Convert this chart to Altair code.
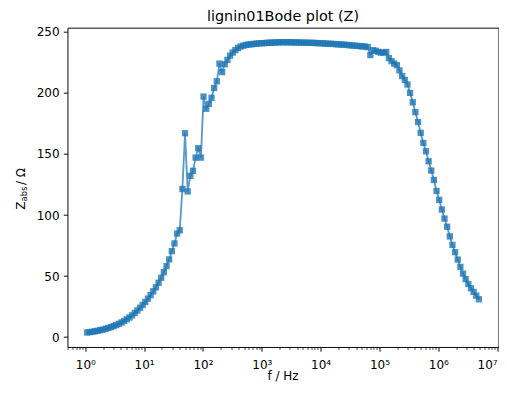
import altair as alt
import pandas as pd

# ---------------- data ----------------
freq_hz = [
    1.072, 1.189, 1.318, 1.462, 1.622, 1.799, 1.995, 2.213, 2.455, 2.723,
    3.020, 3.350, 3.715, 4.121, 4.571, 5.070, 5.623, 6.237, 6.918, 7.674,
    8.511, 9.441, 10.47, 11.61, 12.88, 14.29, 15.85, 17.58, 19.50, 21.63,
    23.99, 26.61, 29.51, 32.73, 36.31, 40.27, 44.67, 49.55, 54.95, 60.95,
    67.61, 74.99, 83.18, 92.26, 102.3, 113.5, 125.9, 139.6, 154.9, 171.8,
    190.5, 211.3, 234.4, 260.0, 288.4, 319.9, 354.8, 393.6, 436.5, 484.2,
    537.0, 595.7, 660.7, 732.8, 812.8, 901.6, 1000, 1109, 1230, 1365,
    1514, 1679, 1862, 2065, 2291, 2541, 2818, 3126, 3467, 3846,
    4266, 4732, 5248, 5821, 6457, 7161, 7943, 8810, 9772, 10840,
    12020, 13340, 14790, 16410, 18200, 20180, 22390, 24830, 27540, 30550,
    33880, 37580, 41690, 46240, 51290, 56890, 63100, 69980, 77620, 86100,
    95500, 105900, 117500, 130300, 144500, 160300, 177800, 197200, 218800, 242700,
    269200, 298500, 331100, 367300, 407400, 451900, 501200, 555900, 616600, 683900,
    758600, 841400, 933300, 1035000, 1148000, 1274000, 1413000, 1567000, 1738000, 1928000,
    2138000, 2371000, 2630000, 2917000, 3236000, 3589000, 3981000, 4416000, 4898000,
]

z_abs = [
    3.8, 4.1, 4.4, 4.8, 5.2, 5.7, 6.2, 6.8, 7.5, 8.2,
    9.0, 9.9, 10.9, 12.0, 13.2, 14.6, 16.1, 17.8, 19.7, 21.8,
    24.0, 26.3, 28.8, 31.5, 34.4, 37.5, 40.8, 44.5, 48.6, 53.2,
    58.2, 63.6, 70.4, 76.7, 84.8, 87.5, 121.3, 167.0, 119.3, 132.1,
    136.2, 147.0, 154.7, 147.0, 197.0, 187.0, 191.0, 196.0, 204.0, 209.5,
    224.0, 217.0, 223.5, 227.0, 230.5, 233.0, 235.0, 236.8, 238.0, 238.7,
    239.3, 239.6, 239.8, 240.2, 240.3, 240.6, 240.7, 240.8, 241.0, 241.1,
    241.2, 241.3, 241.4, 241.5, 241.5, 241.5, 241.5, 241.4, 241.4, 241.3,
    241.3, 241.2, 241.2, 241.1, 241.0, 241.0, 240.9, 240.8, 240.7, 240.6,
    240.4, 240.3, 240.2, 240.1, 239.9, 239.8, 239.6, 239.5, 239.3, 239.1,
    238.9, 238.7, 238.5, 238.3, 238.1, 238.0, 237.5, 231.0, 235.0, 234.5,
    233.6, 233.0, 233.0, 233.5, 228.5, 226.0, 224.0, 222.7, 218.4, 213.8,
    210.6, 206.9, 200.0, 192.3, 184.2, 176.1, 167.3, 159.0, 152.2, 144.0,
    136.4, 128.7, 119.7, 112.4, 104.5, 97.1, 90.4, 82.5, 75.5, 69.5,
    63.5, 57.5, 52.0, 47.5, 43.5, 40.0, 37.0, 34.0, 31.0,
]

x_tick_values = [1, 10, 100, 1000, 10000, 100000, 1000000, 10000000]
x_tick_labels = ["10⁰", "10¹", "10²", "10³", "10⁴", "10⁵", "10⁶", "10⁷"]
y_tick_values = [0, 50, 100, 150, 200, 250]
title_text = ["lignin01Bode plot (Z)"]
x_title = ["f / Hz"]
y_title_main = ["Z"]
y_title_sub = ["abs"]
y_title_rest = ["\u00a0/ Ω"]

# ---------------- chart ----------------
df = pd.DataFrame({"f": freq_hz, "z": z_abs})

BLUE = "#1f77b4"
FONT = "DejaVu Sans"
X_DOMAIN = [0.498, 1.054e7]
Y_DOMAIN = [-8.1, 253.4]
W, H = 431, 319.3

minor_ticks = [m * 10 ** k for k in range(-1, 7) for m in range(2, 10)
               if X_DOMAIN[0] <= m * 10 ** k <= X_DOMAIN[1]]

label_expr = f"'{x_tick_labels[-1]}'"
for v, lab in reversed(list(zip(x_tick_values[:-1], x_tick_labels[:-1]))):
    label_expr = f"datum.value < {v * 3.16} ? '{lab}' : " + label_expr

x_scale = alt.Scale(type="log", domain=X_DOMAIN, nice=False)
y_scale = alt.Scale(domain=Y_DOMAIN, nice=False, zero=False)

x_enc = alt.X(
    "f:Q", scale=x_scale,
    axis=alt.Axis(values=x_tick_values, labelExpr=label_expr, title=None,
                  tickSize=4.2, labelPadding=8,
                  labelFlush=2, labelOverlap=False, orient="bottom"),
)
y_enc = alt.Y(
    "z:Q", scale=y_scale,
    axis=alt.Axis(values=y_tick_values, title=None, tickSize=4.2,
                  labelPadding=4.2, labelFlush=False, labelOverlap=False),
)

line = alt.Chart(df).mark_line(color=BLUE, strokeWidth=1.8, opacity=0.75).encode(
    x=x_enc, y=y_enc)
pts = alt.Chart(df).mark_point(shape="square", filled=True, size=40, color=BLUE,
                               opacity=0.8, strokeWidth=0).encode(x=x_enc, y=y_enc)

txt_style = dict(font=FONT, color="black", angle=270, align="left",
                 baseline="alphabetic")
t_main = alt.Chart(pd.DataFrame({"t": y_title_main})).mark_text(
    fontSize=12, **txt_style).encode(text="t:N", x=alt.value(-42.5), y=alt.value(182.0))
t_sub = alt.Chart(pd.DataFrame({"t": y_title_sub})).mark_text(
    fontSize=8.4, **txt_style).encode(text="t:N", x=alt.value(-40.3), y=alt.value(173.8))
t_rest = alt.Chart(pd.DataFrame({"t": y_title_rest})).mark_text(
    fontSize=12, **txt_style).encode(text="t:N", x=alt.value(-42.5), y=alt.value(157.3))

t_title = alt.Chart(pd.DataFrame({"t": title_text})).mark_text(
    font=FONT, fontSize=14.4, color="black", align="center", baseline="alphabetic"
).encode(text="t:N", x=alt.value(W / 2), y=alt.value(-7.2))

t_xtitle = alt.Chart(pd.DataFrame({"t": x_title})).mark_text(
    font=FONT, fontSize=12, color="black", align="center", baseline="alphabetic"
).encode(text="t:N", x=alt.value(W / 2), y=alt.value(351.8))

main = alt.layer(line, pts, t_main, t_sub, t_rest, t_title, t_xtitle)

minor = alt.Chart(df).mark_point(opacity=0).encode(
    x=alt.X("f:Q", scale=x_scale,
            axis=alt.Axis(values=minor_ticks, labels=False, title=None, domain=False,
                          grid=False, tickSize=2.4, tickWidth=0.72, orient="bottom")))

chart = (
    alt.layer(main, minor)
    .resolve_scale(x="independent")
    .properties(
        width=W, height=H,
        autosize=alt.AutoSizeParams(type="none"),
        padding={"left": 59.5, "top": 19.7, "right": 0.5, "bottom": 34.5},
        background="white",
    )
    .configure(font=FONT)
    .configure_view(stroke="black", strokeWidth=0.96)
    .configure_axis(grid=False, domain=False, labelFont=FONT, labelFontSize=12,
                    labelColor="black", tickColor="black", tickWidth=0.96,
                    titleFont=FONT, titleFontSize=12, titleFontWeight="normal",
                    titleColor="black")
)

chart.save("out.html", embed_options={"renderer": "svg", "actions": False})
